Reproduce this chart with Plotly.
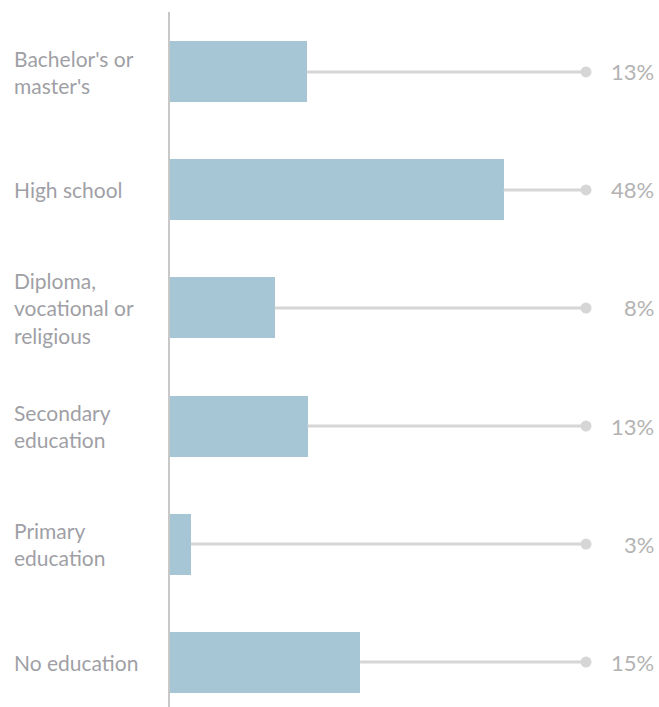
import plotly.graph_objects as go

categories = ["Bachelor's or<br>master's", "High school", "Diploma,<br>vocational or<br>religious",
              "Secondary<br>education", "Primary<br>education", "No education"]
bar_values = [32.9, 80.2, 25.2, 33.1, 5.0, 45.7]
share_labels = ["13%", "48%", "8%", "13%", "3%", "15%"]
dot_value = 100

ypos = list(range(len(categories)))

L = 170
W = 659 - L
SCALE = 4.16

fig = go.Figure()

lx, ly = [], []
for v, y in zip(bar_values, ypos):
    lx += [v, dot_value, None]
    ly += [y, y, None]
fig.add_trace(go.Scatter(x=lx, y=ly, mode="lines", line=dict(color="#d6d6d6", width=3),
                         hoverinfo="skip", showlegend=False))
fig.add_trace(go.Scatter(x=[dot_value] * len(ypos), y=ypos, mode="markers",
                         marker=dict(color="#d6d6d6", size=11), hoverinfo="skip", showlegend=False))
fig.add_trace(go.Bar(x=bar_values, y=ypos, orientation="h", width=0.517,
                     marker=dict(color="#a6c6d5", line=dict(width=0)), showlegend=False))

for y, lab in zip(ypos, share_labels):
    fig.add_annotation(x=(656 - L) / SCALE, y=y, xref="x", yref="y", text=lab, showarrow=False,
                       xanchor="right", yanchor="middle",
                       font=dict(family="Lato", size=22, color="#b3b3b3"))
for y, cat in zip(ypos, categories):
    fig.add_annotation(x=(12 - L) / W, y=y, xref="paper", yref="y", text=cat, showarrow=False,
                       xanchor="left", yanchor="middle", align="left",
                       font=dict(family="Lato", size=21, color="#9f9fa6"))

fig.update_layout(
    width=659, height=707,
    margin=dict(l=L, r=0, t=12, b=0),
    plot_bgcolor="white", paper_bgcolor="white",
    bargap=0,
    xaxis=dict(range=[0, W / SCALE], showgrid=False, zeroline=False, showticklabels=False,
               showline=False, fixedrange=True),
    yaxis=dict(range=[5.381, -0.508], showgrid=False, zeroline=False, showticklabels=False,
               showline=True, linecolor="#c8c8c8", linewidth=2, fixedrange=True),
    font=dict(family="Lato"),
)

fig.write_html("out.html")
